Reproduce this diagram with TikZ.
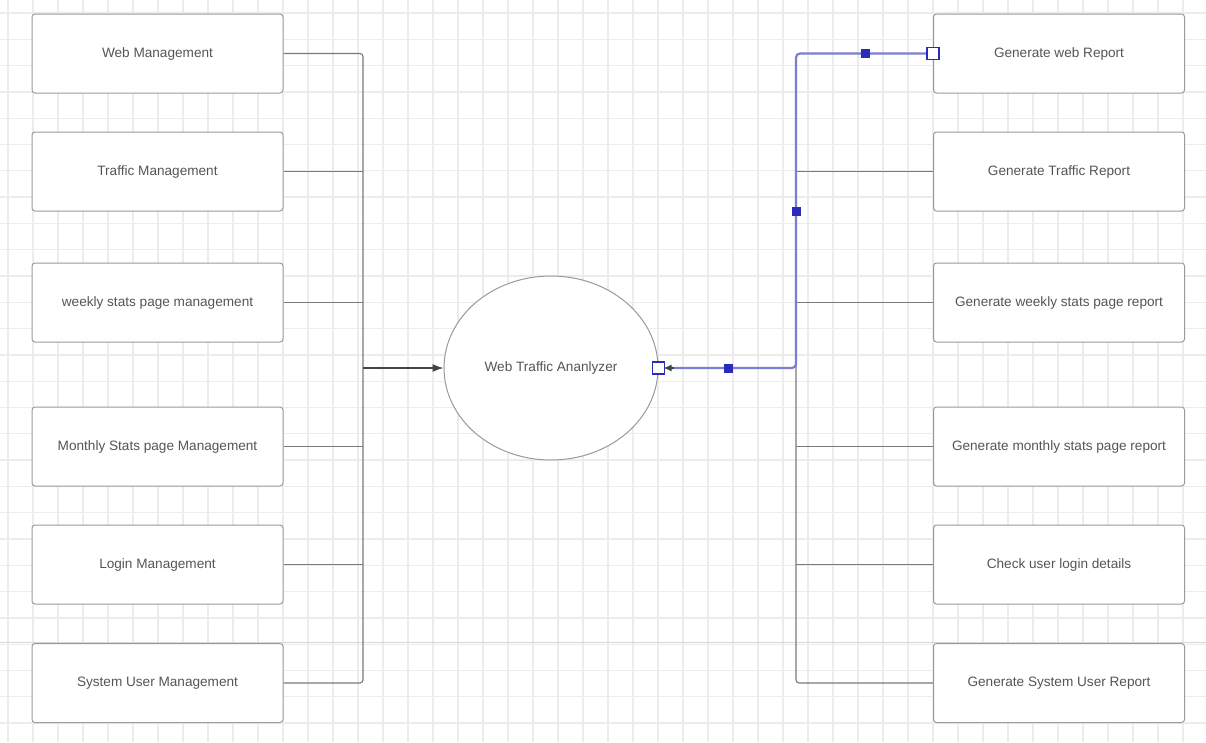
\documentclass[tikz,border=0pt]{standalone}
\usepackage{fontspec}
\setmainfont{Liberation Sans}
\usetikzlibrary{arrows.meta,shapes.geometric}
\definecolor{boxgray}{HTML}{9A9A9A}
\definecolor{txtgray}{HTML}{555555}
\definecolor{conngray}{HTML}{7A7A7A}
\definecolor{darkconn}{HTML}{444444}
\definecolor{gridgray}{HTML}{ECECEC}
\definecolor{gridmajor}{HTML}{D6D6D6}
\definecolor{selblue}{HTML}{7C7CD6}
\definecolor{handleblue}{HTML}{2B2BBB}
\begin{document}
\begin{tikzpicture}[x=1pt,y=-1pt,
  box/.style={draw=boxgray, line width=1pt, rounded corners=3pt, fill=white,
    minimum width=251pt, minimum height=79pt, inner sep=0pt,
    font=\fontsize{13.6}{16}\selectfont, text=txtgray},
  conn/.style={draw=conngray, line width=1.1pt},
  darkline/.style={draw=darkconn, line width=1.2pt},
  selline/.style={draw=selblue, line width=2.2pt},
  hfill/.style={draw=handleblue, fill=handleblue, minimum size=8pt, inner sep=0pt, rectangle},
  hopen/.style={draw=handleblue, fill=white, line width=1.1pt, minimum size=12pt, inner sep=0pt, rectangle}]
\useasboundingbox (0,0) rectangle (1206,742);
\fill[white] (0,0) rectangle (1206,742);
% grid
\foreach \gx in {8,33,...,1208} \draw[gridgray, line width=1.3pt] (\gx,0) -- (\gx,742);
\foreach \gi in {0,...,28} \draw[gridgray, line width=1.3pt] (0,13+26.3*\gi) -- (1206,13+26.3*\gi);
\draw[gridmajor, line width=1pt] (0,642) -- (1206,642);

% left boxes
\node[box] (L1) at (157.5,53.5) {Web Management};
\node[box] (L2) at (157.5,171.5) {Traffic Management};
\node[box] (L3) at (157.5,302.5) {weekly stats page management};
\node[box] (L4) at (157.5,446.5) {Monthly Stats page Management};
\node[box] (L5) at (157.5,564.5) {Login Management};
\node[box] (L6) at (157.5,683) {System User Management};

% right boxes
\node[box] (R1) at (1059,53.5) {Generate web Report};
\node[box] (R2) at (1059,171.5) {Generate Traffic Report};
\node[box] (R3) at (1059,302.5) {Generate weekly stats page report};
\node[box] (R4) at (1059,446.5) {Generate monthly stats page report};
\node[box] (R5) at (1059,564.5) {Check user login details};
\node[box] (R6) at (1059,683) {Generate System User Report};

% centre
\node[ellipse, draw=boxgray, line width=1pt, fill=white, minimum width=214pt, minimum height=184pt,
  inner sep=0pt, font=\fontsize{13.6}{16}\selectfont, text=txtgray] (E) at (551,368) {Web Traffic Ananlyzer};

% left bus
\coordinate (lt) at (363,53.5);
\coordinate (lb) at (363,683);
\coordinate (lm) at (363,368);
\draw[conn, rounded corners=3pt] (L1.east) -- (lt) -- (lb) -- (L6.east);
\foreach \n in {L2,L3,L4,L5} \draw[conn] (\n.east) -- (\n.east -| lm);
\draw[darkline, -{Latex[length=11pt,width=8pt]}] (lm) -- (E.west);

% right bus
\coordinate (rt) at (796,53.5);
\coordinate (rm) at (796,368);
\coordinate (rb) at (796,683);
\draw[conn, rounded corners=3pt] (R2.west -| rm) -- (rb) -- (R6.west);
\foreach \n in {R2,R3,R4,R5} \draw[conn] (\n.west) -- (\n.west -| rm);
\draw[selline, rounded corners=4pt] (R1.west) -- (rt) -- (rm) -- ([xshift=10pt]E.east);
\draw[darkline, -{Latex[length=8pt,width=7pt]}] ([xshift=15pt]E.east) -- ([xshift=5pt]E.east);

% handles
\node[hfill] (h1) at (865,53.5) {};
\node[hfill] (h2) at (796,211) {};
\node[hfill] (h3) at (728,368) {};
\node[hopen] (h4) at (R1.west) {};
\node[hopen] (h5) at (E.east) {};
\end{tikzpicture}
\end{document}
